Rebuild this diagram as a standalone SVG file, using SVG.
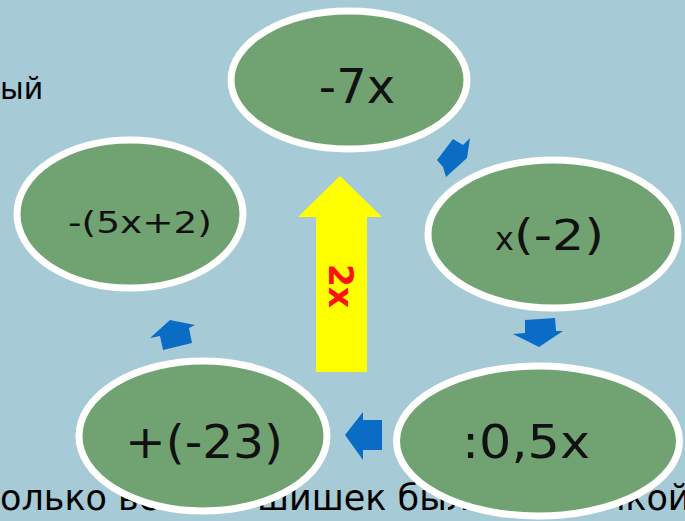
<svg xmlns="http://www.w3.org/2000/svg" width="685" height="521" viewBox="0 0 685 521">
<style>
.node ellipse{fill:#71a372;stroke:#ffffff;stroke-width:7}
.lbl{font-family:"DejaVu Sans",Verdana,sans-serif;fill:#111111}
.bg{font-family:"DejaVu Sans",Verdana,sans-serif;fill:#000000}
.conn{fill:#0a6cc4}
</style>
<rect width="685" height="521" fill="#a6cbd6"/>
<text class="bg" x="0" y="99" font-size="30">ый</text>
<text class="bg" y="510" font-size="35"><tspan x="0">олько всего </tspan><tspan x="257">шишек было под ёлкой</tspan></text>
<g id="n1" class="node"><ellipse cx="349" cy="80" rx="118" ry="69"/><text class="lbl" x="357" y="103" font-size="48" text-anchor="middle">-7x</text></g>
<g id="n2" class="node"><ellipse cx="553" cy="234" rx="125" ry="74"/><text class="lbl" y="250"><tspan x="495" font-size="32">x</tspan><tspan font-size="42" textLength="90" lengthAdjust="spacingAndGlyphs">(-2)</tspan></text></g>
<g id="n5" class="node"><ellipse cx="130" cy="214" rx="113" ry="74"/><text class="lbl" x="68" y="233" font-size="30" textLength="144" lengthAdjust="spacingAndGlyphs">-(5x+2)</text></g>
<g id="n4" class="node"><ellipse cx="203" cy="436" rx="124" ry="75"/><text class="lbl" x="125" y="458" font-size="46" textLength="158" lengthAdjust="spacingAndGlyphs">+(-23)</text></g>
<g id="n3" class="node"><ellipse cx="538" cy="441" rx="141.5" ry="75"/><text class="lbl" x="462" y="458" font-size="46" textLength="128" lengthAdjust="spacingAndGlyphs">:0,5x</text></g>
<g id="n6"><polygon points="340,176 382,217 367,217 367,372 316,372 316,217 298,217" fill="#ffff00"/><text x="340" y="286" font-family="DejaVu Sans,Verdana,sans-serif" font-weight="bold" font-size="33" fill="#ff1010" text-anchor="middle" dominant-baseline="central" transform="rotate(90 340 286)">2x</text></g>
<g id="connectors" class="conn">
<polygon points="453,139 463,145 470,138 467,158 446,177 443,167 437,160"/>
<polygon points="525,320 555,318 556,331 563,331 539,347 513,334 525,333"/>
<polygon points="345,435 363,412 363,420 382,420 382,450 363,450 363,460"/>
<polygon points="170,320 195,325 189,328 192,343 163,350 160,336 150,338"/>
</g>
</svg>
